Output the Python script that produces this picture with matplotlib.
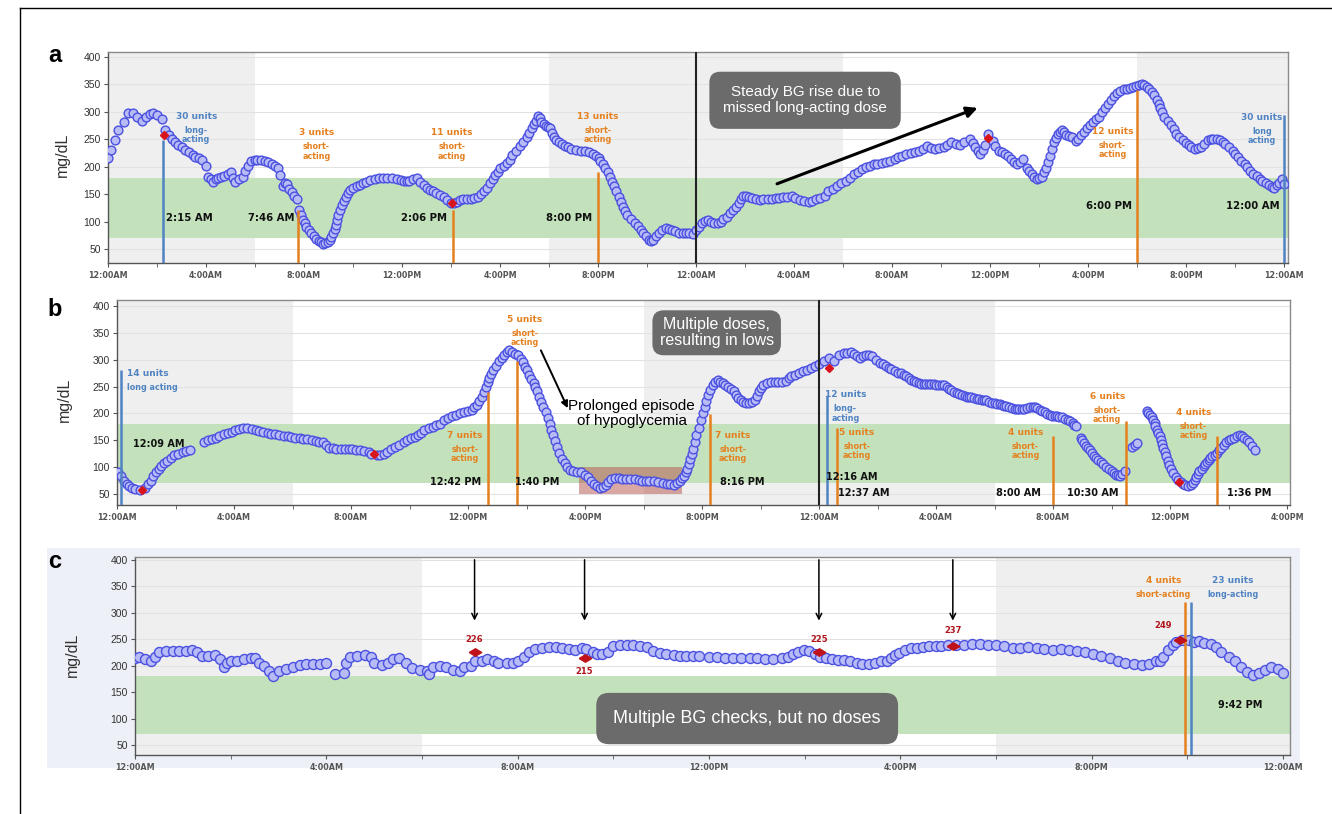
import matplotlib.pyplot as plt
from matplotlib.lines import Line2D
from matplotlib.patches import Rectangle
import numpy as np

W, H = 1332, 814

# ---- panel a: two consecutive days (hours from midnight, mg/dL) ----
A_DAY1_HOURS = [0.0, 0.13, 0.27, 0.42, 0.64, 0.82, 1.0, 1.2, 1.37, 1.55, 1.7, 1.83, 2.0, 2.2, 2.32, 2.47,
                2.6, 2.74, 2.87, 3.0, 3.15, 3.3, 3.45, 3.56, 3.7, 3.84, 4.0, 4.1, 4.2, 4.3, 4.4, 4.5, 4.62,
                4.75, 4.88, 5.0, 5.1, 5.2, 5.35, 5.5, 5.6, 5.7, 5.85, 5.98, 6.1, 6.25, 6.4, 6.55, 6.7, 6.82,
                6.95, 7.04, 7.13, 7.22, 7.3, 7.4, 7.5, 7.6, 7.7, 7.8, 7.88, 7.95, 8.02, 8.1, 8.2, 8.3, 8.4,
                8.5, 8.6, 8.7, 8.78, 8.87, 8.96, 9.05, 9.12, 9.2, 9.25, 9.3, 9.35, 9.4, 9.48, 9.56, 9.63,
                9.7, 9.78, 9.87, 10.0, 10.15, 10.28, 10.4, 10.55, 10.7, 10.88, 11.06, 11.23, 11.4, 11.6,
                11.8, 11.95, 12.07, 12.2, 12.3, 12.45, 12.6, 12.75, 12.9, 13.03, 13.16, 13.28, 13.4, 13.55,
                13.7, 13.85, 14.0, 14.13, 14.26, 14.38, 14.5, 14.65, 14.8, 14.95, 15.1, 15.23, 15.36,
                15.48, 15.6, 15.7, 15.8, 15.9, 16.0, 16.15, 16.3, 16.4, 16.5, 16.65, 16.8, 16.95, 17.1,
                17.2, 17.3, 17.38, 17.46, 17.55, 17.62, 17.68, 17.78, 17.86, 17.95, 18.04, 18.12, 18.2,
                18.3, 18.4, 18.52, 18.65, 18.78, 18.9, 19.1, 19.3, 19.48, 19.65, 19.8, 19.93, 20.02, 20.1,
                20.2, 20.3, 20.4, 20.5, 20.58, 20.66, 20.75, 20.84, 20.92, 21.0, 21.1, 21.2, 21.35, 21.5,
                21.62, 21.75, 21.85, 21.94, 22.07, 22.16, 22.25, 22.38, 22.5, 22.62, 22.76, 22.88, 23.0,
                23.15, 23.3, 23.45, 23.6, 23.73, 23.86, 24.0]
A_DAY1_BG = [215, 231, 249, 266, 281, 297, 297, 290, 284, 291, 296, 297, 295, 287, 267, 257,
             251, 245, 240, 235, 231, 227, 222, 218, 215, 212, 201, 182, 177, 173, 178, 180, 181,
             183, 187, 191, 180, 173, 178, 182, 192, 201, 211, 212, 212, 212, 211, 208, 205, 201,
             197, 185, 165, 170, 168, 160, 153, 147, 142, 121, 112, 103, 97, 91, 85, 79, 73,
             68, 64, 62, 60, 61, 63, 67, 72, 79, 86, 94, 103, 112, 121, 130, 138,
             145, 152, 158, 161, 164, 167, 170, 173, 176, 178, 180, 180, 180, 179,
             177, 175, 174, 174, 174, 177, 179, 173, 167, 162, 158, 155, 152, 148,
             144, 139, 133, 134, 135, 139, 142, 141, 141, 143, 145, 150, 155,
             162, 170, 178, 185, 191, 197, 202, 206, 213, 221, 229, 237, 245, 254,
             262, 271, 278, 284, 293, 288, 281, 277, 275, 273, 271, 262, 254,
             249, 245, 241, 237, 235, 233, 231, 229, 228, 227, 223, 219, 215, 211,
             204, 197, 190, 182, 173, 164, 155, 145, 136, 127, 120, 112, 105, 98,
             92, 85, 79, 73, 66, 65, 67, 73, 80, 85, 88, 87, 85,
             82, 80, 80, 80, 79, 78, 84]

A_DAY2_HOURS = [0.12, 0.25, 0.38, 0.5, 0.62, 0.75, 0.88, 1.0, 1.12, 1.25, 1.38, 1.5, 1.62, 1.75, 1.85,
                1.92, 2.05, 2.17, 2.3, 2.45, 2.6, 2.75, 2.92, 3.1, 3.25, 3.4, 3.55, 3.7, 3.9, 4.05, 4.25,
                4.4, 4.6, 4.75, 4.9, 5.05, 5.26, 5.4, 5.58, 5.76, 5.93, 6.1, 6.27, 6.43, 6.6, 6.76, 6.93,
                7.1, 7.25, 7.4, 7.58, 7.76, 7.93, 8.1, 8.25, 8.4, 8.58, 8.76, 8.93, 9.1, 9.25, 9.43, 9.6,
                9.77, 9.93, 10.1, 10.25, 10.4, 10.6, 10.77, 10.95, 11.2, 11.3, 11.4, 11.5, 11.6, 11.7,
                11.8, 11.9, 12.1, 12.22, 12.35, 12.48, 12.6, 12.72, 12.85, 12.97, 13.1, 13.22, 13.36,
                13.5, 13.6, 13.7, 13.8, 13.9, 14.0, 14.1, 14.2, 14.3, 14.38, 14.45, 14.52, 14.6, 14.68,
                14.77, 14.85, 14.94, 15.02, 15.1, 15.23, 15.36, 15.5, 15.6, 15.7, 15.82, 15.95, 16.07,
                16.2, 16.32, 16.44, 16.57, 16.7, 16.82, 16.94, 17.07, 17.2, 17.32, 17.45, 17.57, 17.7,
                17.83, 17.96, 18.08, 18.2, 18.3, 18.4, 18.5, 18.6, 18.7, 18.8, 18.88, 18.95, 19.03, 19.1,
                19.25, 19.4, 19.5, 19.6, 19.73, 19.87, 20.0, 20.1, 20.22, 20.35, 20.47, 20.6, 20.75,
                20.9, 21.0, 21.1, 21.25, 21.4, 21.5, 21.6, 21.75, 21.9, 22.0, 22.1, 22.25, 22.4, 22.5,
                22.6, 22.75, 22.9, 23.0, 23.1, 23.25, 23.4, 23.5, 23.6, 23.7, 23.8, 23.9, 24.0]
A_DAY2_BG = [90, 97, 101, 103, 100, 97, 98, 100, 104, 109, 115, 121, 127, 134, 141,
             147, 146, 145, 143, 141, 140, 141, 141, 142, 143, 143, 144, 145, 146, 143, 140,
             137, 135, 138, 141, 143, 146, 155, 160, 165, 170, 174, 180, 186, 191, 195, 199,
             202, 204, 205, 206, 208, 211, 214, 217, 220, 223, 225, 227, 229, 233, 237, 234,
             232, 234, 236, 240, 245, 242, 240, 245, 251, 243, 236, 229, 223, 231,
             240, 260, 246, 238, 229, 226, 223, 219, 214, 209, 205, 209, 214,
             198, 192, 186, 181, 178, 179, 182, 190, 198, 209, 220, 232, 245, 253,
             260, 264, 267, 263, 258, 256, 254, 246, 251, 257, 263, 270, 276,
             282, 287, 291, 299, 307, 315, 322, 329, 335, 338, 341, 342, 344,
             345, 347, 349, 350, 349, 346, 342, 337, 330, 322, 314, 307, 299, 291,
             283, 276, 268, 260, 254, 248, 243, 239, 236, 233, 234, 236, 242,
             248, 250, 251, 250, 248, 245, 242, 236, 229, 223, 217, 211, 205, 199,
             192, 187, 183, 178, 174, 170, 166, 163, 161, 166, 171, 177, 168]

A_CHECK_HOURS = [2.3, 14.05, 35.9]
A_CHECK_BG = [257, 134, 253]

# (hour, top of marker line, insulin type)
A_DOSES = [(2.25, 249, "long"), (7.77, 121, "short"), (14.1, 121, "short"),
           (20.0, 190, "short"), (42.0, 340, "short"), (48.0, 294, "long")]

# ---- panel b: day and a half ----
B_HOURS = [0.05, 0.15, 0.24, 0.33, 0.42, 0.5, 0.6, 0.8, 0.96, 1.05, 1.15, 1.24, 1.33, 1.42, 1.5, 1.6,
           1.7, 1.83, 1.96, 2.1, 2.24, 2.37, 2.5,
           2.96, 3.1, 3.24, 3.37, 3.5, 3.65, 3.8, 3.93, 4.05, 4.18, 4.3, 4.45, 4.6, 4.75, 4.87, 5.0,
           5.15, 5.28, 5.4, 5.55, 5.7, 5.83, 5.96, 6.1, 6.24, 6.37, 6.5, 6.65, 6.8, 6.92, 7.05, 7.15,
           7.24, 7.37, 7.5, 7.65, 7.8, 7.92, 8.05, 8.18, 8.3, 8.45, 8.6, 8.7, 8.9, 9.0, 9.12, 9.24,
           9.37, 9.5, 9.65, 9.8, 9.92, 10.05, 10.18, 10.3, 10.4, 10.5, 10.65, 10.8, 10.92, 11.05,
           11.18, 11.3, 11.45, 11.6, 11.73, 11.87, 12.0, 12.15, 12.22, 12.3, 12.38, 12.47, 12.53,
           12.6, 12.67, 12.73, 12.8, 12.87, 12.96, 13.05, 13.15, 13.24, 13.32, 13.4, 13.5, 13.6,
           13.7, 13.8, 13.88, 13.96, 14.03, 14.1, 14.17, 14.24, 14.3, 14.36, 14.43, 14.5, 14.57,
           14.65, 14.72, 14.8, 14.85, 14.9, 14.98, 15.05, 15.12, 15.2, 15.3, 15.4, 15.5, 15.6,
           15.73, 15.87, 16.0, 16.1, 16.2, 16.3, 16.4, 16.5, 16.6, 16.7, 16.8, 16.9, 17.02, 17.15,
           17.28, 17.4, 17.55, 17.7, 17.83, 17.96, 18.1, 18.2, 18.35, 18.5, 18.65, 18.8, 18.92,
           19.05, 19.15, 19.24, 19.32, 19.4, 19.45, 19.5, 19.55, 19.6, 19.65, 19.7, 19.75, 19.8,
           19.88, 19.96, 20.03, 20.1, 20.15, 20.2, 20.28, 20.36, 20.45, 20.55, 20.63, 20.7, 20.8,
           20.9, 21.0, 21.1, 21.17, 21.24, 21.32, 21.4, 21.5, 21.6, 21.7, 21.8, 21.88, 21.96,
           22.03, 22.1, 22.23, 22.36, 22.48, 22.6, 22.73, 22.87, 22.96, 23.05, 23.18, 23.3, 23.45,
           23.6, 23.73, 23.87, 24.0, 24.16, 24.33, 24.5, 24.67, 24.85, 24.96, 25.08, 25.2, 25.3,
           25.4, 25.5, 25.6, 25.7, 25.8, 25.94, 26.1, 26.2, 26.3, 26.38, 26.46, 26.6, 26.7, 26.8,
           26.9, 26.97, 27.08, 27.15, 27.23, 27.3, 27.4, 27.5, 27.58, 27.67, 27.75, 27.84, 27.92,
           28.0, 28.1, 28.2, 28.28, 28.36, 28.43, 28.5, 28.6, 28.7, 28.8, 28.9, 28.98, 29.05,
           29.13, 29.2, 29.3, 29.4, 29.48, 29.56, 29.63, 29.7, 29.8, 29.9, 30.0, 30.1, 30.18,
           30.25, 30.33, 30.4, 30.5, 30.6, 30.7, 30.77, 30.85, 30.94, 31.02, 31.1, 31.2, 31.3,
           31.38, 31.46, 31.55, 31.63, 31.72, 31.8, 31.9, 31.98, 32.06, 32.15, 32.22, 32.3, 32.4,
           32.5, 32.58, 32.67, 32.73, 32.78,
           32.95, 33.0, 33.07, 33.13, 33.18, 33.25, 33.33, 33.4, 33.47, 33.55, 33.64, 33.72, 33.8,
           33.9, 34.0, 34.07, 34.14, 34.21, 34.28, 34.36, 34.45,
           34.7, 34.8, 34.87,
           35.2, 35.25, 35.3, 35.37, 35.43, 35.47, 35.5, 35.55, 35.6, 35.64, 35.68, 35.72, 35.77,
           35.82, 35.86, 35.92, 35.98, 36.04, 36.1, 36.2, 36.28, 36.36, 36.45, 36.52, 36.6, 36.7,
           36.78, 36.85, 36.9, 36.95, 37.0, 37.08, 37.15, 37.2, 37.26, 37.32, 37.38, 37.45, 37.52,
           37.6, 37.67, 37.75, 37.84, 37.92, 38.0, 38.1, 38.2, 38.3, 38.4, 38.47, 38.54, 38.62,
           38.7, 38.8, 38.9]
B_BG = [91, 83, 75, 69, 64, 61, 59, 58, 62, 68, 75, 83, 91, 97, 103, 108,
        112, 117, 122, 125, 128, 130, 131,
        147, 150, 152, 155, 158, 161, 164, 166, 169, 171, 172, 172, 171, 169, 167, 165,
        164, 162, 161, 159, 158, 157, 156, 155, 154, 153, 152, 150, 148, 147, 147, 141,
        136, 135, 134, 134, 134, 134, 133, 132, 131, 130, 128, 125, 122, 122, 125, 129,
        133, 137, 142, 147, 151, 154, 156, 159, 164, 169, 172, 175, 178, 181,
        187, 192, 195, 197, 200, 202, 204, 206, 211, 216, 223, 231, 240,
        250, 258, 266, 274, 281, 289, 297, 303, 309, 314, 318, 314, 310,
        309, 302, 295, 287, 280, 272, 264, 256, 249, 241, 231, 222, 212,
        203, 192, 181, 170, 159, 148, 137, 126, 116, 107, 100, 95, 92,
        91, 91, 86, 81, 75, 69, 65, 62, 63, 66, 72, 78, 79, 79,
        78, 78, 77, 77, 76, 75, 75, 75, 74, 73, 71, 69, 68,
        67, 70, 75, 79, 84, 90, 97, 106, 116, 125, 134, 146, 159,
        173, 187, 200, 212, 223, 234, 244, 253, 258, 262, 259, 256, 253,
        250, 246, 241, 235, 228, 225, 222, 220, 219, 221, 225, 233, 241,
        247, 253, 256, 258, 258, 258, 259, 261, 265, 269, 272, 275, 278,
        281, 284, 288, 292, 297, 303, 297, 309, 312, 313, 314, 310, 306,
        303, 306, 309, 308, 307, 300, 294, 291, 288, 285, 283, 278, 276, 275,
        272, 269, 266, 263, 260, 258, 256, 255, 255, 255, 255, 255, 254,
        253, 253, 253, 252, 250, 246, 243, 240, 238, 236, 235, 232, 230,
        230, 230, 228, 227, 226, 225, 224, 224, 222, 220, 219, 218, 217,
        216, 214, 213, 211, 210, 209, 208, 208, 208, 209, 210, 211, 212,
        211, 210, 207, 205, 202, 199, 197, 196, 196, 196, 194, 193, 190,
        188, 185, 182, 179, 176,
        154, 150, 145, 140, 135, 131, 126, 121, 117, 113, 109, 105, 101,
        96, 92, 89, 86, 85, 84, 88, 92,
        138, 141, 145,
        204, 200, 197, 193, 188, 182, 176, 170, 163, 157, 151, 143, 135,
        128, 120, 112, 104, 96, 89, 82, 76, 72, 69, 67, 65, 67,
        70, 76, 82, 87, 92, 97, 102, 106, 110, 114, 117, 120, 123,
        127, 132, 136, 141, 146, 151, 153, 155, 157, 160, 157, 154, 150,
        146, 139, 132]

B_CHECK_HOURS = [0.85, 8.8, 24.35, 36.3]
B_CHECK_BG = [58, 124, 285, 72]

B_DOSES = [(0.15, 280, "long"), (12.7, 240, "short"), (13.67, 298, "short"),
           (20.27, 199, "short"), (24.27, 232, "long"), (24.62, 173, "short"),
           (32.0, 158, "short"), (34.5, 186, "short"), (37.6, 158, "short")]

# ---- panel c: one day ----
C_HOURS = [0.0, 0.09, 0.2, 0.33, 0.42, 0.51, 0.65, 0.8, 0.93, 1.07, 1.2, 1.3, 1.4, 1.53, 1.67, 1.77,
           1.86, 1.92, 2.0, 2.14, 2.28, 2.42, 2.5, 2.6, 2.7, 2.8, 2.88, 3.02, 3.16, 3.3, 3.44, 3.58,
           3.72, 3.86, 4.0,
           4.19, 4.37, 4.42, 4.5, 4.65, 4.8, 4.93, 5.0, 5.16, 5.3, 5.4, 5.53, 5.67, 5.8, 5.95, 6.1,
           6.14, 6.23, 6.37, 6.5, 6.65, 6.8, 6.88, 7.02, 7.1, 7.26, 7.35, 7.5, 7.6, 7.77, 7.9, 8.0,
           8.14, 8.23, 8.37, 8.5, 8.65, 8.8, 8.93, 9.07, 9.2, 9.35, 9.44, 9.58, 9.67, 9.77, 9.9,
           10.0, 10.14, 10.28, 10.42, 10.56, 10.7, 10.84, 10.98, 11.1, 11.26, 11.4, 11.53, 11.67,
           11.8, 12.0, 12.17, 12.34, 12.5, 12.68, 12.85, 13.0, 13.18, 13.35, 13.52, 13.65, 13.76,
           13.86, 13.99, 14.1, 14.22, 14.33, 14.45, 14.58, 14.7, 14.83, 14.96, 15.09, 15.2, 15.34,
           15.47, 15.6, 15.72, 15.8, 15.9, 15.98, 16.1, 16.23, 16.36, 16.48, 16.6, 16.74, 16.86,
           17.0, 17.16, 17.33, 17.5, 17.67, 17.84, 18.0, 18.18, 18.35, 18.5, 18.68, 18.85, 19.0,
           19.2, 19.36, 19.53, 19.7, 19.87, 20.04, 20.2, 20.38, 20.55, 20.7, 20.88, 21.05, 21.2,
           21.35, 21.43, 21.5, 21.6, 21.7, 21.77, 21.9, 22.03, 22.15, 22.25, 22.36, 22.5, 22.6,
           22.7, 22.87, 23.0, 23.12, 23.25, 23.38, 23.5, 23.63, 23.76, 23.9, 24.0]
C_BG = [214, 216, 212, 209, 216, 225, 228, 228, 228, 228, 230, 225, 219, 219, 220, 212,
        197, 206, 209, 209, 212, 214, 214, 205, 199, 190, 181, 190, 194, 197, 201, 203,
        203, 203, 205,
        184, 187, 206, 216, 219, 220, 216, 206, 201, 206, 212, 214, 206, 195, 192, 190,
        184, 197, 200, 197, 192, 190, 197, 199, 209, 209, 212, 209, 206, 206, 206, 209,
        216, 225, 231, 234, 236, 236, 234, 231, 230, 233, 231, 226, 222, 222, 226,
        238, 239, 239, 239, 238, 236, 228, 224, 222, 220, 219, 219, 219,
        218, 216, 216, 215, 215, 214, 215, 214, 213, 213, 214, 217, 222,
        226, 229, 228, 222, 217, 214, 212, 211, 210, 208, 205, 203, 203,
        205, 208, 208, 214, 220, 224, 229, 233, 234, 236, 237, 237, 238,
        239, 240, 240, 241, 242, 240, 239, 237, 234, 234, 236, 233, 231,
        229, 231, 229, 228, 226, 223, 218, 214, 208, 205, 203, 202, 203,
        208, 208, 217, 229, 239, 245, 248, 249, 245, 247, 243, 242, 236,
        226, 217, 208, 198, 189, 183, 187, 192, 198, 193, 187]

C_CHECK_HOURS = [7.1, 9.4, 14.3, 17.1, 21.85]
C_CHECK_BG = [226, 215, 225, 237, 249]

C_DOSES = [(21.95, 320, "short"), (22.08, 320, "long")]

TICK_NAMES = ["12:00AM", "4:00AM", "8:00AM", "12:00PM", "4:00PM", "8:00PM"]

NIGHT = "#efefef"
GREEN = "#c3e2bb"
MARK_FACE = "#b8bcf6"
MARK_EDGE = "#4b50e0"
ORANGE = "#e5801f"
BLUE = "#4f83c2"
RED = "#d8141c"
DARKRED = "#b0141b"
BOX = "#6b6b6b"
DOSE_COLOR = {"short": ORANGE, "long": BLUE}

fig = plt.figure(figsize=(W / 100, H / 100), dpi=100)
fig.patch.set_facecolor("white")


def px_axes(left, top, right, bottom):
    return fig.add_axes([left / W, 1 - bottom / H, (right - left) / W, (bottom - top) / H])


def setup(ax, xmax, ylim, nights):
    ax.set_xlim(0, xmax)
    ax.set_ylim(*ylim)
    ax.set_facecolor("white")
    for a, b in nights:
        ax.axvspan(a, b, color=NIGHT, lw=0, zorder=0)
    for y in range(50, 401, 50):
        ax.axhline(y, color="#e2e2e2", lw=0.8, zorder=0.5)
    ax.axhspan(70, 180, color=GREEN, lw=0, zorder=1)
    major = np.arange(0, xmax, 4)
    ax.set_xticks(major)
    ax.set_xticklabels([TICK_NAMES[int(h // 4) % 6] for h in major],
                       fontsize=5.8, fontweight="bold", color="#222")
    ax.set_xticks(np.arange(0, xmax, 2), minor=True)
    ax.set_yticks(range(50, 401, 50))
    ax.tick_params(axis="y", labelsize=7.5, colors="#555", labelcolor="#333", length=3, pad=2)
    ax.tick_params(axis="x", which="both", length=3, colors="#555", pad=3)
    for lab in ax.get_yticklabels():
        lab.set_family("Liberation Sans")
    for side in ("left", "bottom"):
        ax.spines[side].set_color("#555")
        ax.spines[side].set_linewidth(1.0)
    for side in ("top", "right"):
        ax.spines[side].set_color("#8a8a8a")
        ax.spines[side].set_linewidth(1.0)


def readings(ax, hours, bg, ms=6.3):
    ax.plot(hours, bg, "o", ms=ms, mfc=MARK_FACE, mec=MARK_EDGE, mew=1.0, zorder=3)


def checks(ax, hours, bg, marker="D", ms=4.5, color=RED):
    ax.plot(hours, bg, linestyle="none", marker=marker, ms=ms, color=color, mec=color, zorder=6)


def doses(ax, dose_list):
    y0 = ax.get_ylim()[0]
    for t, top, kind in dose_list:
        ax.vlines(t, y0, top, color=DOSE_COLOR[kind], lw=1.8, zorder=4)


def dose_label(ax, x, y, units, kind, color, ha="center", gap=10):
    ax.text(x, y, units, color=color, ha=ha, va="top", fontsize=6.5,
            fontweight="bold", zorder=7)
    ax.annotate(kind, (x, y), xytext=(0, -gap), textcoords="offset points",
                color=color, ha=ha, va="top", fontsize=5.8, fontweight="bold",
                linespacing=1.05, zorder=7)


def time_label(ax, x, y, s, ha="left", fs=7.3):
    ax.text(x, y, s, ha=ha, va="center", fontsize=fs, fontweight="bold",
            color="#111", zorder=7)


def note_box(ax, x, y, s, fs, pad, ls=1.15):
    ax.text(x, y, s, ha="center", va="center", fontsize=fs, color="white",
            family="Liberation Sans", linespacing=ls, zorder=8,
            bbox=dict(boxstyle=f"round,pad={pad},rounding_size=0.7", fc=BOX, ec="none"))


# backdrop behind panel c
fig.add_artist(Rectangle((47 / W, 1 - 768 / H), (1300 - 47) / W, (768 - 548) / H,
                         transform=fig.transFigure, color="#edf0f6", lw=0, zorder=-1))

# ---------------- panel a ----------------
ax_a = px_axes(108, 52, 1288, 263)
setup(ax_a, 48.16, (24.5, 409), [(0, 6), (18, 30), (42, 49)])
readings(ax_a, A_DAY1_HOURS, A_DAY1_BG)
readings(ax_a, [h + 24 for h in A_DAY2_HOURS], A_DAY2_BG)
doses(ax_a, A_DOSES)
checks(ax_a, A_CHECK_HOURS, A_CHECK_BG)
ax_a.axvline(24, color="#222", lw=1.5, zorder=5)

dose_label(ax_a, 3.6, 300, "30 units", "long-\nacting", BLUE)
dose_label(ax_a, 8.5, 270, "3 units", "short-\nacting", ORANGE)
dose_label(ax_a, 14.04, 270, "11 units", "short-\nacting", ORANGE)
dose_label(ax_a, 20.0, 300, "13 units", "short-\nacting", ORANGE)
dose_label(ax_a, 41.0, 272, "12 units", "short-\nacting", ORANGE)
dose_label(ax_a, 47.1, 298, "30 units", "long\nacting", BLUE)

time_label(ax_a, 2.35, 106, "2:15 AM")
time_label(ax_a, 7.6, 106, "7:46 AM", ha="right")
time_label(ax_a, 13.85, 106, "2:06 PM", ha="right")
time_label(ax_a, 19.75, 106, "8:00 PM", ha="right")
time_label(ax_a, 41.8, 128, "6:00 PM", ha="right")
time_label(ax_a, 47.8, 128, "12:00 AM", ha="right")

note_box(ax_a, 28.45, 321, "Steady BG rise due to\nmissed long-acting dose", 11, 0.9)
ax_a.annotate("", xy=(35.6, 309), xytext=(27.2, 167),
              arrowprops=dict(arrowstyle="-|>", lw=2.2, color="black", mutation_scale=16),
              zorder=8)

# ---------------- panel b ----------------
ax_b = px_axes(117, 300, 1290, 505)
setup(ax_b, 40.1, (29.5, 411), [(0, 6), (18, 30)])
ax_b.add_patch(Rectangle((15.8, 50), 3.5, 50, fc="#b4524c", alpha=0.5, lw=0, zorder=2))
readings(ax_b, B_HOURS, B_BG)
doses(ax_b, B_DOSES)
checks(ax_b, B_CHECK_HOURS, B_CHECK_BG)
ax_b.axvline(24, color="#222", lw=1.5, zorder=5)

dose_label(ax_b, 0.35, 283, "14 units", "long acting", BLUE, ha="left")
dose_label(ax_b, 11.9, 167, "7 units", "short-\nacting", ORANGE)
dose_label(ax_b, 13.95, 383, "5 units", "short-\nacting", ORANGE)
dose_label(ax_b, 21.06, 167, "7 units", "short-\nacting", ORANGE)
dose_label(ax_b, 24.9, 243, "12 units", "long-\nacting", BLUE)
dose_label(ax_b, 25.3, 173, "5 units", "short-\nacting", ORANGE)
dose_label(ax_b, 31.05, 173, "4 units", "short-\nacting", ORANGE)
dose_label(ax_b, 33.85, 240, "6 units", "short-\nacting", ORANGE)
dose_label(ax_b, 36.8, 210, "4 units", "short-\nacting", ORANGE)

time_label(ax_b, 0.55, 143, "12:09 AM", fs=7)
time_label(ax_b, 12.45, 72, "12:42 PM", ha="right", fs=7)
time_label(ax_b, 14.36, 72, "1:40 PM", ha="center", fs=7)
time_label(ax_b, 20.6, 72, "8:16 PM", fs=7)
time_label(ax_b, 24.24, 82, "12:16 AM", fs=7)
time_label(ax_b, 24.65, 52, "12:37 AM", fs=7)
time_label(ax_b, 31.6, 52, "8:00 AM", ha="right", fs=7)
time_label(ax_b, 34.25, 52, "10:30 AM", ha="right", fs=7)
time_label(ax_b, 37.95, 52, "1:36 PM", fs=7)

note_box(ax_b, 20.5, 350, "Multiple doses,\nresulting in lows", 11.5, 0.45, ls=1.05)
ax_b.text(17.6, 200, "Prolonged episode\nof hypoglycemia", ha="center", va="center",
          fontsize=11, family="Liberation Sans", color="black", linespacing=1.05, zorder=8)
ax_b.annotate("", xy=(15.45, 205), xytext=(14.45, 322),
              arrowprops=dict(arrowstyle="-|>", lw=1.4, color="black", mutation_scale=10),
              zorder=8)

# ---------------- panel c ----------------
ax_c = px_axes(135, 557, 1290, 755)
setup(ax_c, 24.15, (31, 405.7), [(0, 6), (18, 25)])
readings(ax_c, C_HOURS, C_BG, ms=7.2)
doses(ax_c, C_DOSES)
wide_diamond = [(-1, 0), (0, 0.6), (1, 0), (0, -0.6), (-1, 0)]
checks(ax_c, C_CHECK_HOURS, C_CHECK_BG, marker=wide_diamond, ms=9, color="#c0121a")

offsets = [(0, 9), (0, -10), (0, 9), (0, 11), (-12, 10)]
for t, v, off in zip(C_CHECK_HOURS, C_CHECK_BG, offsets):
    ax_c.annotate(str(v), (t, v), xytext=off, textcoords="offset points",
                  ha="center", va="center", fontsize=6, fontweight="bold",
                  color=DARKRED, zorder=7)
for t in C_CHECK_HOURS[:4]:
    ax_c.annotate("", xy=(t, 280), xytext=(t, 405.7), annotation_clip=False,
                  arrowprops=dict(arrowstyle="->", lw=1.1, color="black", mutation_scale=10),
                  zorder=8)

dose_label(ax_c, 21.5, 370, "4 units", "short-acting", ORANGE)
dose_label(ax_c, 22.95, 370, "23 units", "long-acting", BLUE)
time_label(ax_c, 23.1, 126, "9:42 PM", ha="center", fs=7)

note_box(ax_c, 12.8, 100, "Multiple BG checks, but no doses", 13, 0.95)

# ---------------- labels and frame ----------------
for letter, y in (("a", 55), ("b", 310), ("c", 562)):
    fig.text(55 / W, 1 - y / H, letter, ha="center", va="center", fontsize=17,
             fontweight="bold", family="Liberation Sans")
for x, y in ((62, 155), (64, 400), (72, 655)):
    fig.text(x / W, 1 - y / H, "mg/dL", rotation=90, ha="center", va="center",
             fontsize=11.5, color="#333", family="Liberation Sans")

fig.add_artist(Line2D([20 / W, 20 / W], [0, 1 - 8 / H], transform=fig.transFigure,
                      color="black", lw=1.0))
fig.add_artist(Line2D([20 / W, 1], [1 - 8 / H, 1 - 8 / H], transform=fig.transFigure,
                      color="black", lw=1.0))

fig.savefig("out.png", dpi=100)
